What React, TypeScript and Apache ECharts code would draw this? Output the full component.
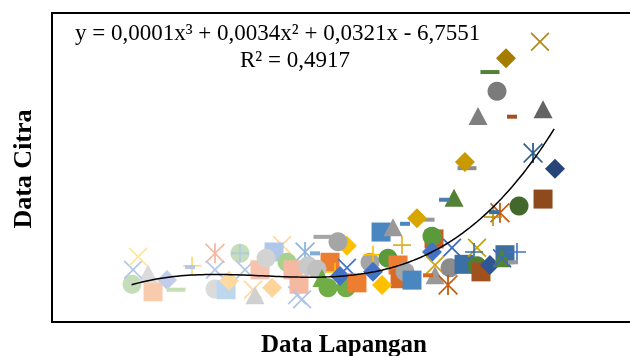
import React, { useEffect, useRef } from "react";
import * as echarts from "echarts";

// Field data (x) and image data (y) for each point, in drawing order
const fieldValues = [
  -24.16, -22.10, -22.59, -24.06, -23.57, -20.73, -19.85, -18.28, -18.48, -16.03,
  -16.03, -16.03, -14.95, -14.66, -13.58, -13.58, -13.09, -12.31, -12.11, -10.44,
  -11.62, -9.46, -10.25, -11.03, -7.21, -7.99, -8.97, -8.39, -7.80, -6.92,
  -7.50, -5.45, -3.10, -3.98, -4.76, -6.23, -6.04, -4.96, -3.19, -3.10,
  -4.27, -3.78, -2.12, -5.55, -0.84, -0.55, 0.92, 1.90, 2.10, -0.55,
  2.59, 3.27, 0.33, 0.24, 1.41, 2.59, 4.55, 3.76, 2.29, 5.43,
  5.23, 5.23, 7.19, 5.53, 7.00, 5.53, 4.84, 6.80, 8.37, 9.64,
  9.35, 9.64, 10.03, 10.91, 12.38, 12.09, 12.09, 13.56, 13.17, 7.39,
  6.41, 8.66, 8.46, 16.11, 13.76, 11.89, 11.21, 11.31, 15.13, 17.28,
  9.74, 13.07, 16.11, 11.60, 10.91, 12.48, 15.81,
];
const imageValues = [
  -6.95, -7.06, -6.79, -6.74, -6.55, -6.89, -7.03, -6.68, -6.70, -6.50,
  -6.74, -7.02, -7.03, -6.90, -6.50, -6.50, -6.74, -7.03, -7.11, -7.00,
  -6.74, -6.38, -6.48, -6.57, -6.48, -7.11, -6.63, -6.74, -6.95, -6.68,
  -7.17, -6.26, -6.39, -6.33, -6.63, -6.50, -6.73, -7.00, -7.00, -6.71,
  -6.77, -6.83, -6.93, -6.86, -6.63, -6.52, -6.57, -6.67, -6.87, -6.77,
  -6.77, -6.89, -6.96, -6.19, -6.12, -6.07, -6.01, -5.99, -6.38, -6.29,
  -6.25, -6.48, -6.42, -6.67, -6.71, -6.82, -6.82, -6.96, -6.66, -6.42,
  -6.48, -6.68, -6.77, -6.67, -6.52, -6.57, -6.57, -6.48, -6.63, -5.69,
  -5.72, -5.26, -5.17, -5.71, -5.81, -5.91, -5.97, -5.90, -5.04, -5.27,
  -4.50, -4.51, -4.40, -4.14, -3.86, -3.66, -3.42,
];
// Marker type per point: D diamond, S square, T triangle, X cross, A asterisk,
// C circle, P plus, d short dash, L long dash
const markerTypes = [
  "C", "S", "T", "X", "X", "D", "L", "P", "d", "A",
  "X", "C", "S", "D", "C", "P", "X", "X", "T", "D",
  "S", "X", "S", "C", "A", "X", "C", "S", "S", "C",
  "X", "L", "D", "C", "S", "d", "C", "C", "C", "X",
  "P", "D", "S", "T", "C", "P", "C", "S", "S", "D",
  "C", "S", "D", "S", "T", "d", "L", "D", "P", "S",
  "C", "D", "X", "X", "C", "T", "d", "A", "S", "X",
  "P", "C", "S", "D", "S", "T", "X", "P", "d", "T",
  "d", "L", "D", "S", "C", "A", "P", "d", "A", "D",
  "T", "d", "T", "C", "L", "D", "X",
];
const markerColors = [
  "#C5DDB8", "#F8CBAD", "#DBDBDB", "#B4C7E7", "#FFE699", "#C3CCEB", "#C5E0B4", "#FFD966", "#B4C7E7", "#F4B9A0",
  "#B4C7E7", "#DBDBDB", "#BDD7EE", "#FFD9A0", "#C5DDB8", "#AFC8EA", "#B4C7E7", "#FFD9A0", "#D0D0D0", "#FFD49A",
  "#F8C2AD", "#FFD9A0", "#AFC8EA", "#D3D3D3", "#8FB4E0", "#B4C7E7", "#A9D18E", "#F4B9A0", "#F4B9A0", "#C9C9C9",
  "#AFC3E8", "#A5A5A5", "#FFC000", "#A5A5A5", "#ED7D31", "#7EAEDD", "#C0C0C0", "#70AD47", "#70AD47", "#4472C4",
  "#FFC000", "#4472C4", "#ED7D31", "#70AD47", "#A5A5A5", "#FFC000", "#5B9A3A", "#ED7D31", "#D86A25", "#4472C4",
  "#A5A5A5", "#4A86C0", "#FFC000", "#4A86C0", "#999999", "#4A86C0", "#999999", "#D8A600", "#E0B020", "#C0612B",
  "#5B9A3A", "#4472C4", "#3A6DB5", "#D4A017", "#8C8C8C", "#999999", "#D2691E", "#C55A11", "#3A70A5", "#C8A000",
  "#3A70A5", "#4F7F33", "#A0521E", "#2F5597", "#3E6F9E", "#548235", "#3A6DB5", "#4472C4", "#999999", "#548235",
  "#4A7EB0", "#8C8C8C", "#C99A00", "#8E4A1C", "#43682B", "#C55A11", "#BF9000", "#3E6F9E", "#2E5F8A", "#264478",
  "#7F7F7F", "#A0521E", "#636363", "#7B7B7B", "#548235", "#A67C00", "#B08A1E",
];

// Polynomial trendline as printed on the chart: y = a x^3 + b x^2 + c x + d
const trendCoefficients = [0.0001, 0.0034, 0.0321, -6.7551];
const trendRange = [-24.2, 17.2];
const xRange = [-32, 24.63];
const yRange = [-7.5, -3];
const equationText = "y = 0,0001x³ + 0,0034x² + 0,0321x - 6,7551";
const rSquaredText = "R² = 0,4917";
const xAxisTitle = "Data Lapangan";
const yAxisTitle = "Data Citra";

const X_PATH =
  "path://M0,1.3 L1.3,0 L10,8.7 L18.7,0 L20,1.3 L11.3,10 L20,18.7 L18.7,20 L10,11.3 L1.3,20 L0,18.7 L8.7,10 Z";
const PLUS_PATH =
  "path://M9.1,0 L10.9,0 L10.9,9.1 L20,9.1 L20,10.9 L10.9,10.9 L10.9,20 L9.1,20 L9.1,10.9 L0,10.9 L0,9.1 L9.1,9.1 Z";
const AST_PATH =
  "path://M0,1.2 L1.2,0 L10,8.8 L18.8,0 L20,1.2 L11.2,10 L20,18.8 L18.8,20 L10,11.2 L1.2,20 L0,18.8 L8.8,10 Z M9.1,0 L10.9,0 L10.9,20 L9.1,20 Z";

const SYMBOLS: Record<string, [string, number | number[]]> = {
  D: ["diamond", 20],
  S: ["rect", 19],
  T: ["triangle", [19, 18]],
  C: ["circle", 19],
  X: [X_PATH, 19],
  A: [AST_PATH, 20],
  P: [PLUS_PATH, 18],
  d: ["rect", [10, 4]],
  L: ["rect", [19, 4]],
};

export default function App() {
  const ref = useRef<HTMLDivElement>(null);
  useEffect(() => {
    if (!ref.current) return;
    const chart = echarts.init(ref.current, undefined, { renderer: "svg" });

    const points = fieldValues.map((x, i) => {
      const [symbol, size] = SYMBOLS[markerTypes[i]];
      return {
        value: [x, imageValues[i]],
        symbol,
        symbolSize: size,
        itemStyle: { color: markerColors[i], opacity: 1 },
      };
    });

    const [a, b, c, d] = trendCoefficients;
    const trend: number[][] = [];
    const steps = 120;
    for (let k = 0; k <= steps; k++) {
      const x = trendRange[0] + ((trendRange[1] - trendRange[0]) * k) / steps;
      trend.push([x, a * x * x * x + b * x * x + c * x + d]);
    }

    const serif = '"Liberation Serif", "Times New Roman", serif';
    const frameLine = { show: true, onZero: false, lineStyle: { color: "#000", width: 2 } };
    const hidden = {
      axisTick: { show: false },
      axisLabel: { show: false },
      splitLine: { show: false },
    };

    chart.setOption({
      animation: false,
      grid: { left: 52, top: 13, right: 0, bottom: 34 },
      xAxis: [
        { type: "value", min: xRange[0], max: xRange[1], position: "bottom", axisLine: frameLine, ...hidden },
        { type: "value", min: xRange[0], max: xRange[1], position: "top", axisLine: frameLine, ...hidden },
      ],
      yAxis: {
        type: "value",
        min: yRange[0],
        max: yRange[1],
        position: "left",
        axisLine: frameLine,
        ...hidden,
      },
      series: [
        {
          type: "scatter",
          data: points,
          silent: true,
          itemStyle: { opacity: 1 },
          z: 2,
        },
        {
          type: "line",
          data: trend,
          showSymbol: false,
          silent: true,
          lineStyle: { color: "#000", width: 1.5 },
          z: 3,
        },
      ],
      graphic: [
        {
          type: "text",
          x: 75,
          y: 32,
          z: 10,
          style: {
            text: equationText,
            font: `23px ${serif}`,
            fill: "#000",
            verticalAlign: "middle",
          },
        },
        {
          type: "text",
          x: 240,
          y: 59,
          z: 10,
          style: {
            text: rSquaredText,
            font: `23px ${serif}`,
            fill: "#000",
            verticalAlign: "middle",
          },
        },
        {
          type: "text",
          x: 344,
          y: 343,
          style: {
            text: xAxisTitle,
            font: `bold 25px ${serif}`,
            fill: "#000",
            align: "center",
            verticalAlign: "middle",
          },
        },
        {
          type: "text",
          x: 22,
          y: 169,
          rotation: Math.PI / 2,
          style: {
            text: yAxisTitle,
            font: `bold 26px ${serif}`,
            fill: "#000",
            align: "center",
            verticalAlign: "middle",
          },
        },
      ],
    });
    return () => chart.dispose();
  }, []);
  return (
    <div
      ref={ref}
      style={{ position: "fixed", left: 0, top: 0, width: 630, height: 356 }}
    />
  );
}
